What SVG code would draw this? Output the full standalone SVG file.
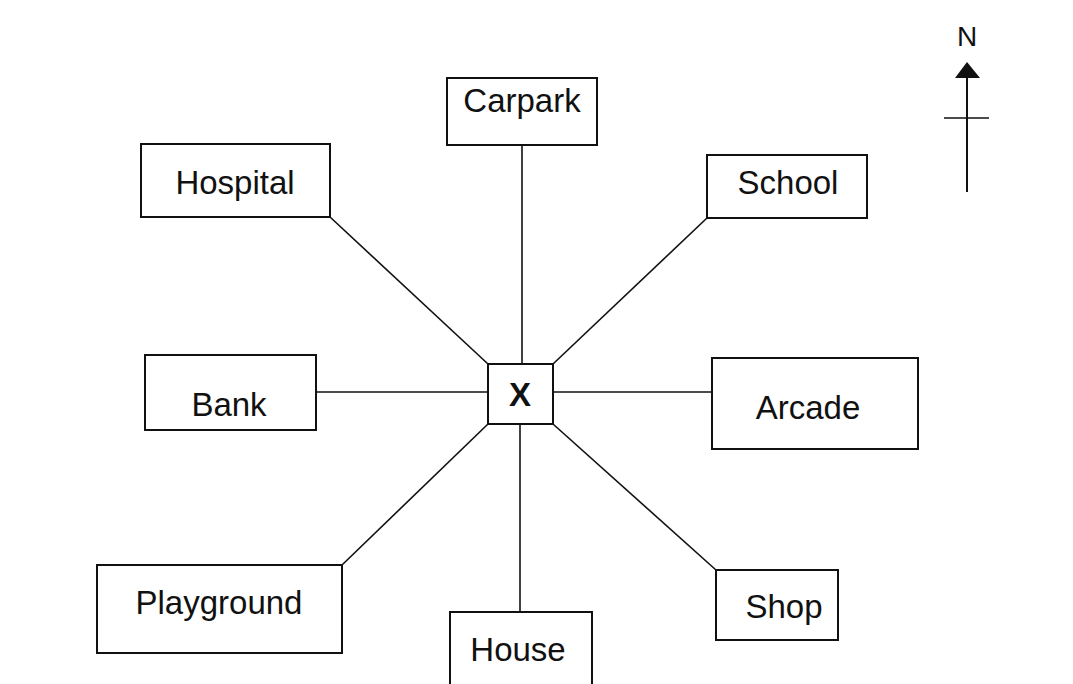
<svg xmlns="http://www.w3.org/2000/svg" width="1073" height="684" viewBox="0 0 1073 684">
<style>
.box{fill:#fff;stroke:#111;stroke-width:2}
.lbl{font-family:"Liberation Sans",Arial,sans-serif;font-size:33px;fill:#111;text-anchor:middle}
.con line{stroke:#111;stroke-width:1.6}
</style>
<rect width="1073" height="684" fill="#fff"/>
<g id="connectors" class="con">
<line x1="522" y1="145" x2="522" y2="364"/>
<line x1="330" y1="217" x2="488" y2="364"/>
<line x1="707" y1="218" x2="553" y2="364"/>
<line x1="316" y1="392" x2="488" y2="392"/>
<line x1="712" y1="392" x2="553" y2="392"/>
<line x1="342" y1="565" x2="488" y2="424"/>
<line x1="520" y1="612" x2="520" y2="424"/>
<line x1="716" y1="570" x2="553" y2="424"/>
</g>
<g id="carpark"><rect class="box" x="447" y="78" width="150" height="67"/><text class="lbl" x="522" y="112">Carpark</text></g>
<g id="hospital"><rect class="box" x="141" y="144" width="189" height="73"/><text class="lbl" x="235" y="194">Hospital</text></g>
<g id="school"><rect class="box" x="707" y="155" width="160" height="63"/><text class="lbl" x="788" y="194">School</text></g>
<g id="bank"><rect class="box" x="145" y="355" width="171" height="75"/><text class="lbl" x="229" y="416">Bank</text></g>
<g id="x"><rect class="box" x="488" y="364" width="65" height="60"/><text class="lbl" x="520" y="406" style="font-weight:bold">X</text></g>
<g id="arcade"><rect class="box" x="712" y="358" width="206" height="91"/><text class="lbl" x="808" y="419">Arcade</text></g>
<g id="playground"><rect class="box" x="97" y="565" width="245" height="88"/><text class="lbl" x="219" y="614">Playground</text></g>
<g id="house"><path d="M450 700 V612 H592 V700" fill="#fff" stroke="#111" stroke-width="2"/><text class="lbl" x="518" y="661">House</text></g>
<g id="shop"><rect class="box" x="716" y="570" width="122" height="70"/><text class="lbl" x="784" y="618">Shop</text></g>
<g id="north">
<text x="967" y="46" style="font-family:'Liberation Sans',Arial,sans-serif;font-size:28px;fill:#111;text-anchor:middle">N</text>
<polygon points="967,62 955,78 980,78" fill="#111"/>
<line x1="967" y1="76" x2="967" y2="192" stroke="#111" stroke-width="2"/>
<line x1="944" y1="118" x2="989" y2="118" stroke="#111" stroke-width="1.5"/>
</g>
</svg>
